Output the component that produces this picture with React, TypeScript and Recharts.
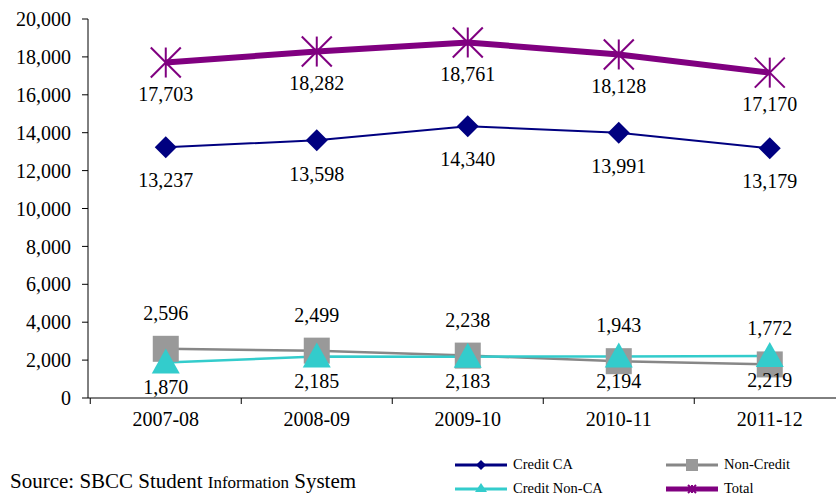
import { LineChart, Line, XAxis, YAxis, LabelList } from "recharts"

const years = ["2007-08", "2008-09", "2009-10", "2010-11", "2011-12"]
const creditCA = [13237, 13598, 14340, 13991, 13179]
const nonCredit = [2596, 2499, 2238, 1943, 1772]
const creditNonCA = [1870, 2185, 2183, 2194, 2219]
const total = [17703, 18282, 18761, 18128, 17170]
const yTicks = [0, 2000, 4000, 6000, 8000, 10000, 12000, 14000, 16000, 18000, 20000]
// boundaries between years get a tick mark, the year centres get the labels
const xTicks = [0, 0.5, 1, 1.5, 2, 2.5, 3, 3.5, 4, 4.5]

const data = years.map((year, i) => ({
  year,
  pos: i + 0.5,
  creditCA: creditCA[i],
  nonCredit: nonCredit[i],
  creditNonCA: creditNonCA[i],
  total: total[i],
}))

const FONT = '"Liberation Serif", "Times New Roman", serif'
const fmt = (v: number) => v.toLocaleString("en-US")

const NAVY = "#000080"
const GRAY = "#878787"
const GRAY_FILL = "#999999"
const TEAL = "#33CCCC"
const PURPLE = "#800080"

const Diamond = ({ cx, cy, size = 11 }: any) =>
  cx == null ? null : (
    <polygon points={`${cx},${cy - size} ${cx + size},${cy} ${cx},${cy + size} ${cx - size},${cy}`} fill={NAVY} />
  )

const Square = ({ cx, cy, size = 13 }: any) =>
  cx == null ? null : <rect x={cx - size} y={cy - size} width={size * 2} height={size * 2} fill={GRAY_FILL} />

const Triangle = ({ cx, cy, size = 13 }: any) =>
  cx == null ? null : (
    <polygon
      points={`${cx},${cy - size - 1} ${cx + size + 1},${cy + size - 2} ${cx - size - 1},${cy + size - 2}`}
      fill={TEAL}
    />
  )

const Star = ({ cx, cy, size = 15 }: any) =>
  cx == null ? null : (
    <g stroke={PURPLE} strokeWidth={2}>
      <line x1={cx - size} y1={cy - size} x2={cx + size} y2={cy + size} />
      <line x1={cx + size} y1={cy - size} x2={cx - size} y2={cy + size} />
      <line x1={cx} y1={cy - size} x2={cx} y2={cy + size} />
    </g>
  )

const legendItems = [
  { name: "Credit CA", color: NAVY, width: 3, Marker: Diamond, size: 5 },
  { name: "Non-Credit", color: GRAY, width: 3, Marker: Square, size: 6 },
  { name: "Credit Non-CA", color: TEAL, width: 3, Marker: Triangle, size: 5 },
  { name: "Total", color: PURPLE, width: 5, Marker: Star, size: 4 },
]

const YearTick = ({ x, y, payload }: any) => {
  const v = payload.value
  if (Number.isInteger(v)) return <line x1={x} y1={y} x2={x} y2={y + 6} stroke="#000" />
  return (
    <text x={x} y={y + 14} textAnchor="middle" dy="0.71em" fill="#000" fontSize={20} fontFamily={FONT}>
      {years[v - 0.5]}
    </text>
  )
}

export default function App() {
  return (
    <div style={{ position: "absolute", left: 0, top: 0, width: 836, height: 499, background: "#fff" }}>
      <LineChart width={836} height={499} data={data} margin={{ top: 19, right: 0, bottom: 61, left: 0 }}>
        <XAxis
          dataKey="pos"
          type="number"
          domain={[-0.015, 748 / 151 - 0.015]}
          ticks={xTicks}
          interval={0}
          allowDataOverflow
          height={40}
          axisLine={{ stroke: "#000" }}
          tickLine={false}
          tickSize={0}
          tickMargin={0}
          tick={<YearTick />}
        />
        <YAxis
          width={88}
          domain={[0, 20000]}
          ticks={yTicks}
          tickFormatter={fmt}
          axisLine={{ stroke: "#000" }}
          tickLine={{ stroke: "#000" }}
          tickSize={6}
          tickMargin={11}
          tick={{ fill: "#000", fontSize: 20, fontFamily: FONT }}
        />
        <Line dataKey="total" stroke={PURPLE} strokeWidth={6} dot={<Star />} isAnimationActive={false}>
          <LabelList dataKey="total" position="bottom" offset={24} formatter={fmt} fill="#000" fontSize={20} fontFamily={FONT} />
        </Line>
        <Line dataKey="creditCA" stroke={NAVY} strokeWidth={2} dot={<Diamond />} isAnimationActive={false}>
          <LabelList dataKey="creditCA" position="bottom" offset={26} formatter={fmt} fill="#000" fontSize={20} fontFamily={FONT} />
        </Line>
        <Line dataKey="nonCredit" stroke={GRAY} strokeWidth={2.5} dot={<Square />} isAnimationActive={false}>
          <LabelList dataKey="nonCredit" position="top" offset={29} formatter={fmt} fill="#000" fontSize={20} fontFamily={FONT} />
        </Line>
        <Line dataKey="creditNonCA" stroke={TEAL} strokeWidth={2.5} dot={<Triangle />} isAnimationActive={false}>
          <LabelList dataKey="creditNonCA" position="bottom" offset={17} formatter={fmt} fill="#000" fontSize={20} fontFamily={FONT} />
        </Line>
      </LineChart>
      <div
        style={{
          position: "absolute",
          left: 455,
          top: 455,
          display: "grid",
          gridTemplateColumns: "211px 160px",
          rowGap: 5,
          fontFamily: FONT,
          fontSize: 14.5,
        }}
      >
        {legendItems.map(({ name, color, width, Marker, size }) => (
          <div key={name} style={{ display: "flex", alignItems: "center", height: 19 }}>
            <svg width={52} height={16} style={{ marginRight: 6 }}>
              <line x1={0} y1={8} x2={52} y2={8} stroke={color} strokeWidth={width} />
              <Marker cx={26} cy={8} size={size} />
            </svg>
            <span>{name}</span>
          </div>
        ))}
      </div>
      <div style={{ position: "absolute", left: 10, top: 469, fontFamily: FONT, fontSize: 21, color: "#000", whiteSpace: "nowrap" }}>
        Source: SBCC Student <span style={{ fontSize: 17 }}>Information</span> System
      </div>
    </div>
  )
}
